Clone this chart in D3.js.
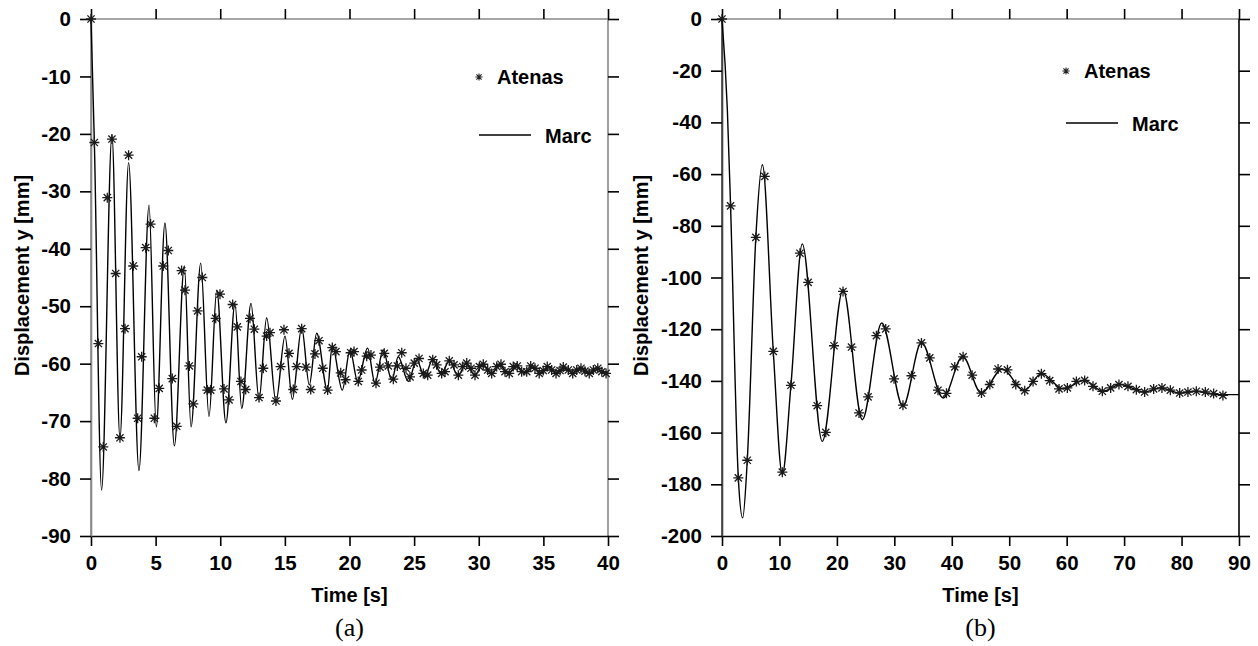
<!DOCTYPE html>
<html>
<head>
<meta charset="utf-8">
<script src="https://cdn.jsdelivr.net/npm/d3@7"></script>
<style>
  body { margin: 0; background: #fff; }
  text { font-family: "Liberation Sans", Arial, sans-serif; font-weight: bold; fill: #000; }
  .caption { font-family: "Liberation Serif", "Times New Roman", serif; font-weight: normal; }
</style>
</head>
<body>
<div id="chart"></div>
<script>
// ---- panel (a) ----
var timeTicksA = [0, 5, 10, 15, 20, 25, 30, 35, 40];
var dispTicksA = [0, -10, -20, -30, -40, -50, -60, -70, -80, -90];

var atenasTimeA = [0, 0.26, 0.57, 0.95, 1.26, 1.62, 1.91, 2.24, 2.63, 2.91, 3.27, 3.61, 3.92, 4.23, 4.61, 4.90, 5.28, 5.59, 5.98, 6.29,
  6.63, 7.01, 7.27, 7.61, 7.92, 8.25, 8.61, 9.0, 9.26, 9.65, 9.98, 10.29, 10.68, 10.96, 11.32, 11.6, 11.97, 12.3, 12.64, 13.0,
  13.33, 13.59, 13.85, 14.31, 14.67, 14.93, 15.32, 15.65, 15.91, 16.3, 16.63, 17.0, 17.33, 17.64, 17.93, 18.31, 18.67, 18.95, 19.32, 19.7,
  20.09, 20.35, 20.68, 20.94, 21.33, 21.66, 22.05, 22.36, 22.69, 23.0, 23.39, 23.7, 24.04, 24.37, 24.68, 25.01, 25.38, 25.71, 26.05, 26.44,
  26.74, 27.13, 27.39, 27.72, 28.09, 28.42, 28.76, 29.07, 29.4, 29.71, 30.05, 30.35, 30.69, 31.0, 31.39, 31.72, 32.03, 32.36, 32.67, 32.98,
  33.32, 33.71, 34.02, 34.35, 34.68, 34.99, 35.3, 35.64, 35.98, 36.29, 36.54, 36.93, 37.27, 37.58, 37.91, 38.22, 38.55, 38.87, 39.21, 39.52, 39.85];
var atenasDispA = [0, -21.5, -56.5, -74.5, -31.1, -20.9, -44.3, -72.9, -53.9, -23.7, -43.0, -69.5, -58.8, -39.8, -35.7, -69.5, -64.3, -43.0, -40.3, -62.6,
  -70.9, -43.8, -47.2, -60.4, -67.0, -50.8, -45.0, -64.6, -64.6, -52.1, -47.9, -64.4, -66.3, -49.7, -53.6, -63.1, -64.5, -52.1, -54.0, -65.9,
  -60.8, -55.2, -54.6, -66.5, -60.5, -54.1, -58.2, -64.5, -60.5, -53.9, -60.6, -64.5, -58.3, -56.0, -60.8, -64.6, -57.2, -57.9, -61.6, -62.8,
  -58.1, -57.9, -63.1, -61.1, -58.7, -58.5, -63.4, -60.6, -58.2, -60.4, -62.7, -60.4, -58.1, -60.8, -62.3, -59.9, -59.1, -61.7, -62.0, -59.3,
  -60.2, -61.7, -61.4, -59.5, -60.2, -62.0, -60.5, -59.9, -60.8, -62.0, -60.5, -60.1, -61.1, -61.7, -60.5, -60.1, -61.4, -61.7, -60.5, -60.4,
  -61.4, -61.4, -60.4, -60.8, -61.7, -61.2, -60.5, -61.1, -61.7, -61.2, -60.6, -61.1, -61.7, -61.1, -60.8, -61.3, -61.7, -61.1, -60.8, -61.4, -61.7];

var marcTimeA = [0, 0.26, 0.82, 1.62, 2.24, 2.91, 3.71, 4.49, 5.05, 5.72, 6.45, 7.22, 7.74, 8.49, 9.13, 9.73, 10.44, 11.14, 11.66, 12.38,
  13.0, 13.59, 14.31, 15.01, 15.58, 16.3, 16.89, 17.46, 18.29, 18.67, 19.44, 20.04, 20.63, 21.4, 21.97, 22.6, 23.27, 23.77, 24.55, 25.2,
  25.8, 26.44, 27.1, 27.72, 28.4, 29.0, 29.7, 30.3, 31.0, 31.6, 32.3, 32.9, 33.6, 34.2, 34.8, 35.5, 36.0, 36.6, 37.3, 37.9, 38.6, 39.2, 39.9, 40];
var marcDispA = [0, -21.5, -82, -20.2, -73, -25, -78.6, -32.4, -71, -35.5, -74.3, -43, -71, -42.5, -69.2, -47.2, -70.3, -49.5, -67.8, -49.5,
  -66.3, -52, -66.6, -55.2, -66.2, -53.7, -63.7, -54.7, -64.6, -56.8, -64.6, -57.6, -63.1, -57.3, -63.4, -57.6, -62.9, -58.8, -63.1, -59.3,
  -62.3, -59.3, -61.8, -59.5, -62.1, -60.0, -62.0, -60.1, -61.8, -60.2, -61.7, -60.4, -61.6, -60.6, -61.6, -60.6, -61.7, -60.8, -61.6, -60.9, -61.7, -61.0, -61.8, -61.5];

// ---- panel (b) ----
var timeTicksB = [0, 10, 20, 30, 40, 50, 60, 70, 80, 90];
var dispTicksB = [0, -20, -40, -60, -80, -100, -120, -140, -160, -180, -200];

var atenasTimeB = [0, 1.49, 2.84, 4.4, 5.89, 7.45, 8.93, 10.5, 12.0, 13.57, 15.0, 16.57, 18.07, 19.5, 21.07, 22.54, 23.86, 25.43, 26.88, 28.5,
  29.95, 31.5, 32.98, 34.72, 36.17, 37.6, 39.07, 40.52, 41.97, 43.54, 45.17, 46.62, 48.06, 49.69, 51.14, 52.7, 54.15, 55.6, 57.05, 58.67,
  60.12, 61.69, 63.13, 64.58, 66.21, 67.66, 69.1, 70.67, 72.13, 73.57, 75.14, 76.59, 78.05, 79.67, 81.11, 82.57, 84.14, 85.58, 87.2];
var atenasDispB = [0, -72.3, -177.5, -170.7, -84.5, -60.9, -128.6, -175.3, -141.7, -90.6, -101.9, -149.6, -159.9, -126.4, -105.4, -126.9, -152.4, -146.2, -122.5, -119.9,
  -139.2, -149.4, -138.0, -125.3, -131.1, -143.6, -144.8, -134.6, -130.7, -137.8, -144.7, -141.4, -135.4, -135.7, -141.4, -143.8, -140.2, -137.2, -139.9, -143.1,
  -142.7, -140.2, -139.8, -142.1, -144.0, -142.7, -141.4, -142.1, -143.4, -144.3, -143.1, -142.7, -143.6, -144.7, -144.3, -144.0, -144.3, -144.9, -145.6];

var marcTimeB = [0, 0.93, 1.49, 2.84, 3.6, 4.4, 5.89, 7.03, 8.93, 10.5, 12.0, 13.97, 17.45, 21.07, 24.42, 27.8, 31.5, 34.72, 38.5, 41.9,
  45.1, 48.8, 52.6, 55.6, 59.4, 63.1, 66.3, 69.4, 73.6, 76.3, 79.7, 82.5, 86.0, 90];
var marcDispB = [0, -35, -72.3, -177.5, -193, -170.7, -84.5, -56.4, -128.6, -176.2, -141.7, -87, -163.4, -104.7, -155, -117.6, -149.8, -125.1, -146.6, -130.5,
  -144.7, -135.4, -143.8, -137.2, -143.1, -139.8, -144, -141.4, -144.3, -142.7, -144.7, -144.0, -145.3, -145.3];

var svgWidth = 1258;
var svgHeight = 646;

var svg = d3.select("#chart")
  .append("svg")
  .attr("width", svgWidth)
  .attr("height", svgHeight);

// 8-armed asterisk centred on 0,0
function star(r) {
  var d = r * 0.72;
  return `M${-r},0H${r}M0,${-r}V${r}M${-d},${-d}L${d},${d}M${-d},${d}L${d},${-d}`;
}

// plain hyphen for negatives, like the original
var plain = d => String(d);

function drawPanel(p) {
  var x = d3.scaleLinear().domain(p.xDomain).range([p.left, p.right]);
  var y = d3.scaleLinear().domain(p.yDomain).range([p.top, p.bottom]);

  var g = svg.append("g");

  // frame lines
  g.append("line").attr("x1", p.left).attr("x2", p.right).attr("y1", p.top).attr("y2", p.top)
    .attr("stroke", "#888").attr("stroke-width", 1.6);
  g.append("line").attr("x1", p.left).attr("x2", p.left).attr("y1", p.top).attr("y2", p.bottom)
    .attr("stroke", p.leftColor).attr("stroke-width", 1.6);
  g.append("line").attr("x1", p.right).attr("x2", p.right).attr("y1", p.top).attr("y2", p.bottom)
    .attr("stroke", p.rightColor).attr("stroke-width", 1.6);

  // axes: ticks outward on all four sides, labels left and bottom
  var bottom = g.append("g")
    .attr("transform", `translate(0, ${p.bottom})`)
    .call(d3.axisBottom(x).tickValues(p.xTicks).tickFormat(plain).tickSize(10).tickPadding(9).tickSizeOuter(0));
  var left = g.append("g")
    .attr("transform", `translate(${p.left}, 0)`)
    .call(d3.axisLeft(y).tickValues(p.yTicks).tickFormat(plain).tickSize(11).tickPadding(9).tickSizeOuter(0));
  var top = g.append("g")
    .attr("transform", `translate(0, ${p.top})`)
    .call(d3.axisTop(x).tickValues(p.xTicks).tickFormat("").tickSize(10).tickSizeOuter(0));
  var right = g.append("g")
    .attr("transform", `translate(${p.right}, 0)`)
    .call(d3.axisRight(y).tickValues(p.yTicks).tickFormat("").tickSize(11).tickSizeOuter(0));

  [bottom, left, top, right].forEach(function(a) {
    a.selectAll("text").attr("font-size", "20.5px").style("font-family", "'Liberation Sans', Arial, sans-serif")
      .style("font-weight", "bold").attr("fill", "#000");
    a.selectAll(".tick line").attr("stroke", "#000").attr("stroke-width", 1.6);
  });
  bottom.select(".domain").attr("stroke", "#000").attr("stroke-width", 1.6);
  left.select(".domain").attr("stroke", p.leftColor).attr("stroke-width", 1.6);
  top.select(".domain").remove();
  right.select(".domain").remove();

  // axis titles
  g.append("text")
    .attr("x", (p.left + p.right) / 2)
    .attr("y", p.bottom + 66)
    .attr("text-anchor", "middle")
    .attr("font-size", "20px")
    .text("Time [s]");

  g.append("text")
    .attr("transform", `translate(${p.left - p.yTitleOffset}, ${(p.top + p.bottom) / 2 - 2}) rotate(-90)`)
    .attr("text-anchor", "middle")
    .attr("dy", "0.35em")
    .attr("font-size", "20px")
    .text("Displacement y [mm]");

  g.append("text")
    .attr("class", "caption")
    .attr("x", (p.left + p.right) / 2)
    .attr("y", p.bottom + 100)
    .attr("text-anchor", "middle")
    .attr("font-size", "26px")
    .text(p.caption);

  // Marc line
  var line = d3.line()
    .x(d => x(d[0]))
    .y(d => y(d[1]))
    .curve(d3.curveMonotoneX);

  g.append("path")
    .datum(d3.zip(p.marcTime, p.marcDisp))
    .attr("d", line)
    .attr("fill", "none")
    .attr("stroke", "#000")
    .attr("stroke-width", 1.4);

  // Atenas asterisks
  g.selectAll(".atenas")
    .data(d3.zip(p.atenasTime, p.atenasDisp))
    .enter()
    .append("path")
    .classed("atenas", true)
    .attr("transform", d => `translate(${x(d[0])}, ${y(d[1])})`)
    .attr("d", star(5))
    .attr("fill", "none")
    .attr("stroke", "#1a1a1a")
    .attr("stroke-width", 1.3);

  // legend
  var lg = g.append("g").attr("transform", `translate(${p.legendX}, ${p.legendY})`);
  lg.append("path")
    .attr("d", star(3.6))
    .attr("fill", "none")
    .attr("stroke", "#222")
    .attr("stroke-width", 1.1);
  lg.append("text")
    .attr("x", 18)
    .attr("y", 0)
    .attr("dy", "0.35em")
    .attr("font-size", "20px")
    .text("Atenas");
  lg.append("line")
    .attr("x1", 0).attr("x2", 52)
    .attr("y1", p.legendGap).attr("y2", p.legendGap)
    .attr("stroke", "#000")
    .attr("stroke-width", 1.3);
  lg.append("text")
    .attr("x", 66)
    .attr("y", p.legendGap + 1)
    .attr("dy", "0.35em")
    .attr("font-size", "20px")
    .text("Marc");
}

drawPanel({
  left: 91, right: 608, top: 19, bottom: 536,
  xDomain: [0, 40], yDomain: [0, -90],
  xTicks: timeTicksA, yTicks: dispTicksA,
  atenasTime: atenasTimeA, atenasDisp: atenasDispA,
  marcTime: marcTimeA, marcDisp: marcDispA,
  leftColor: "#888", rightColor: "#888",
  yTitleOffset: 69,
  legendX: 479, legendY: 77, legendGap: 58,
  caption: "(a)"
});

drawPanel({
  left: 722, right: 1239, top: 19, bottom: 536,
  xDomain: [0, 90], yDomain: [0, -200],
  xTicks: timeTicksB, yTicks: dispTicksB,
  atenasTime: atenasTimeB, atenasDisp: atenasDispB,
  marcTime: marcTimeB, marcDisp: marcDispB,
  leftColor: "#444", rightColor: "#000",
  yTitleOffset: 81,
  legendX: 1066, legendY: 71, legendGap: 52,
  caption: "(b)"
});
</script>
</body>
</html>
